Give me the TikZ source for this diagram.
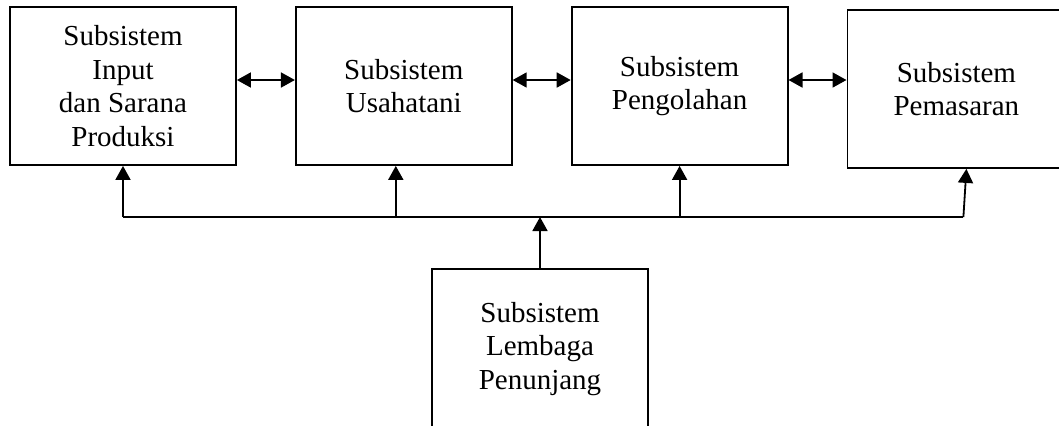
\documentclass[tikz,border=0pt]{standalone}
\usepackage{fontspec}
\setmainfont{Liberation Serif}
\usetikzlibrary{arrows.meta,positioning}

\begin{document}
\begin{tikzpicture}[>={Triangle[length=7pt,width=7.5pt]},line width=0.9pt,
	block/.style={draw,rectangle,align=center,inner sep=0pt,minimum width=108pt,minimum height=79pt,font=\fontsize{14.5}{16.8}\selectfont}]

\useasboundingbox (0,0) rectangle (529.5pt,-212.5pt);
\clip (0,0) rectangle (529.5pt,-212.5pt);

\node[block,minimum width=113pt]   (input)   at (61.5pt,-43pt)   {Subsistem\\Input\\dan Sarana\\Produksi};

\node[block]   (usaha)[right=29pt of input]      {Subsistem\\Usahatani};
\node[block]   (olah)[right=29pt of usaha]       {Subsistem\\Pengolahan};
\node[block,minimum width=109pt]   (pasar)[right=29pt of olah,yshift=-1.5pt]   {Subsistem\\Pemasaran};

\node[block,minimum height=80pt]   (lembaga)  at (270pt,-174.5pt)   {Subsistem\\Lembaga\\Penunjang};

\coordinate (bus) at (270pt,-108.5pt);

	\path[<->] ([yshift=3pt]input.east)  edge  ([yshift=3pt]input.east -| usaha.west)
				 ([yshift=3pt]usaha.east)  edge  ([yshift=3pt]usaha.east -| olah.west)
				 ([yshift=3pt]olah.east)  edge  ([yshift=3pt]olah.east -| pasar.west);

	\draw (input.south |- bus) -- ([xshift=3.5pt]pasar.south |- bus);
	\path[->] (lembaga)  edge  (bus)
				 (input.south |- bus)  edge  (input.south)
				 ([xshift=-4pt]usaha.south |- bus)  edge  ([xshift=-4pt]usaha.south)
				 (olah.south |- bus)  edge  (olah.south)
				 ([xshift=3.5pt]pasar.south |- bus)  edge  ([xshift=5pt]pasar.south);

	\end{tikzpicture}
\end{document}
